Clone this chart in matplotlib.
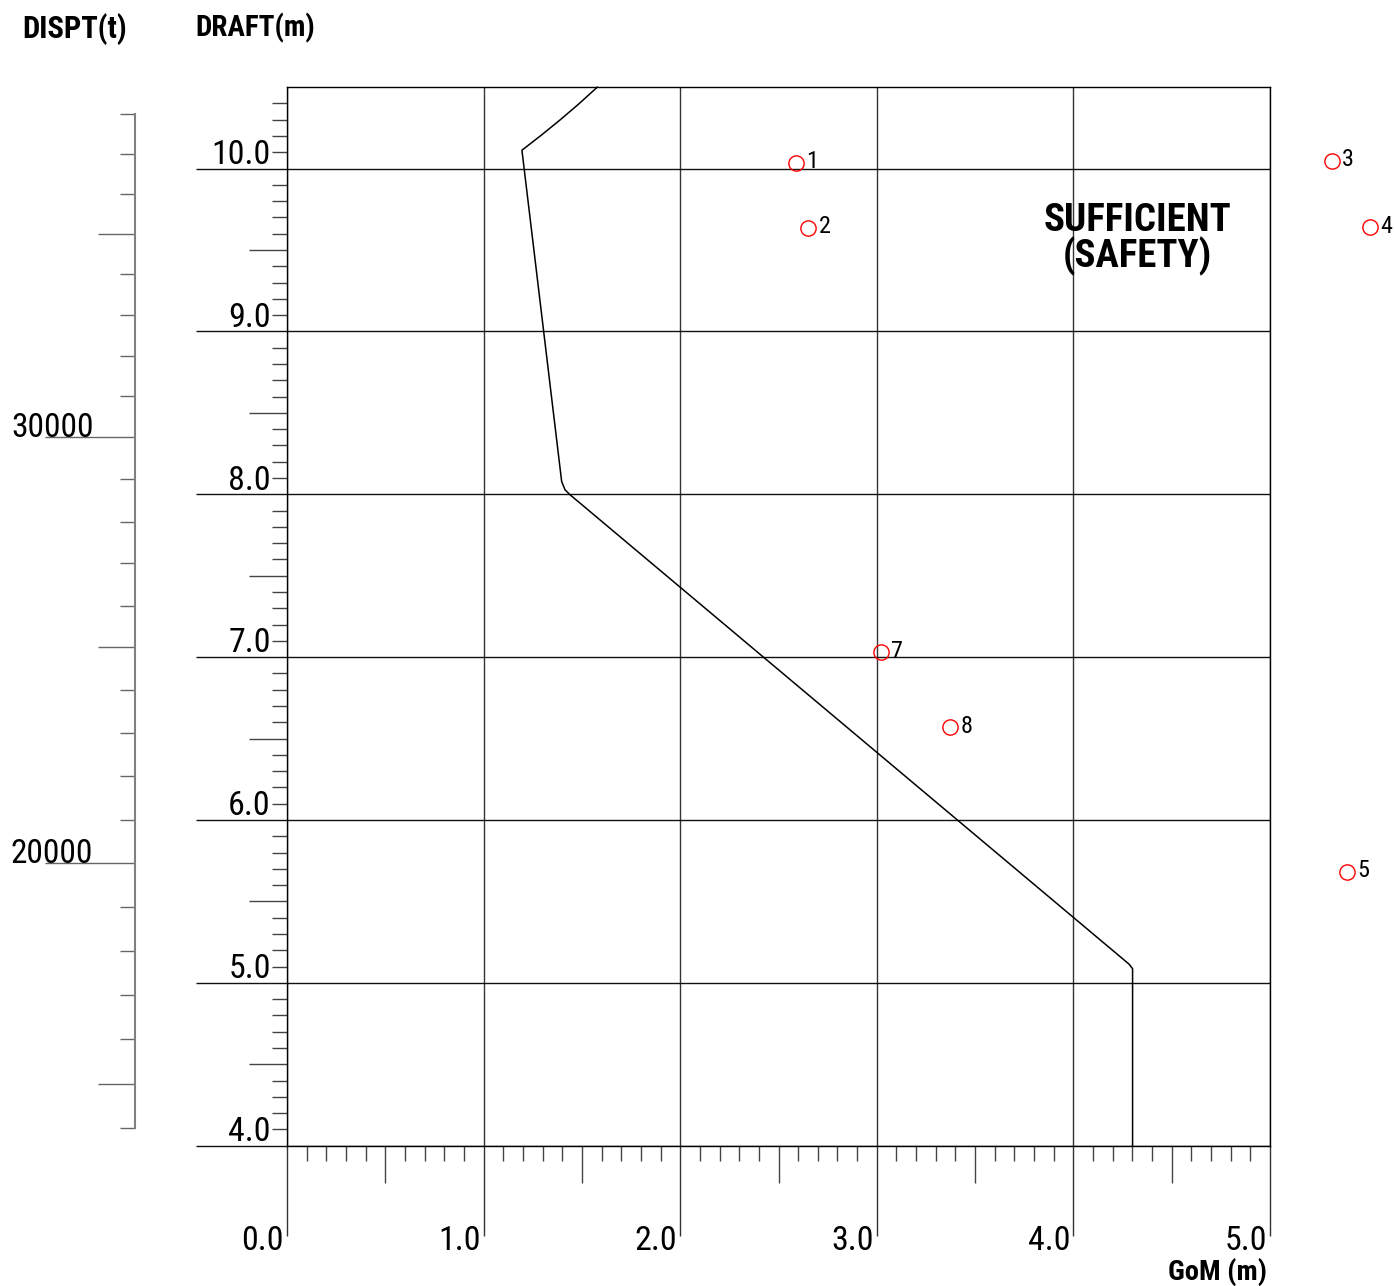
import numpy as np
import matplotlib
matplotlib.use("Agg")
import matplotlib.pyplot as plt
from matplotlib import font_manager
from matplotlib.font_manager import FontProperties
from matplotlib.transforms import ScaledTranslation, blended_transform_factory

# ---------------- data ----------------
curve_gom = [1.578, 1.483, 1.389, 1.291, 1.195, 1.397, 1.414, 1.440, 4.283, 4.301, 4.301]
curve_draft = [10.50, 10.396, 10.299, 10.203, 10.113, 8.079, 8.028, 7.997, 5.115, 5.087, 4.00]

point_ids = ["1", "2", "3", "4", "5", "7", "8"]
point_gom = [2.589, 2.652, 5.314, 5.509, 5.392, 3.021, 3.372]
point_draft = [10.037, 9.638, 10.049, 9.640, 5.683, 7.033, 6.573]

disp_values = list(range(38000, 13000, -1000))
disp_drafts = [10.336, 10.092, 9.845, 9.597, 9.352, 9.102, 8.852, 8.605,
               8.349, 8.093, 7.833, 7.578, 7.317, 7.060, 6.800, 6.534,
               6.268, 6.003, 5.736, 5.466, 5.196, 4.928, 4.653, 4.380, 4.107]
disp_labels = [30000, 20000]

draft_ticks = [4.0, 5.0, 6.0, 7.0, 8.0, 9.0, 10.0]
gom_ticks = [0.0, 1.0, 2.0, 3.0, 4.0, 5.0]

# ---------------- fonts: look for a narrow sans face ----------------
def _w(e):
    w = e.weight
    if isinstance(w, str):
        w = font_manager.weight_dict.get(w, 400)
    return int(w)

pref = ["Liberation Sans Narrow", "Noto Sans", "Noto Sans Condensed", "Open Sans",
        "Open Sans Condensed", "Roboto", "Roboto Condensed", "DejaVu Sans",
        "DejaVu Sans Condensed", "Lato", "Inter"]
groups = {}
for e in font_manager.fontManager.ttflist:
    if e.style != "normal":
        continue
    st = str(e.stretch)
    narrow = ("Narrow" in e.name) or ("Condensed" in e.name) or st in ("condensed", "semi-condensed")
    if not narrow or "Mono" in e.name or "Serif" in e.name:
        continue
    key = (e.name, st)
    groups.setdefault(key, []).append(e)

REG = BOLD = None
best = None
for (nm, st), ents in groups.items():
    regs = [e for e in ents if _w(e) == 400]
    bolds = [e for e in ents if _w(e) == 700]
    if not regs or not bolds:
        continue
    rank = (pref.index(nm) if nm in pref else 50, 0 if st == "condensed" else 1)
    if best is None or rank < best[0]:
        best = (rank, regs[0].fname, bolds[0].fname)
if best is not None:
    REG, BOLD = best[1], best[2]
    SCALE = 1.0
else:
    REG = font_manager.findfont(FontProperties(family="Liberation Sans"))
    BOLD = font_manager.findfont(FontProperties(family="Liberation Sans", weight="bold"))
    SCALE = 0.88

def FP(size, bold=False):
    return FontProperties(fname=BOLD if bold else REG, size=size * SCALE)

DPI = 100
W_PX, H_PX = 1394, 1286
fig = plt.figure(figsize=(W_PX / DPI, H_PX / DPI), dpi=DPI)

AX_L, AX_R, AX_T, AX_B = 287, 1270, 87.2, 1145.7
pos = [AX_L / W_PX, 1 - AX_B / H_PX, (AX_R - AX_L) / W_PX, (AX_B - AX_T) / H_PX]
ax = fig.add_axes(pos)
ax.set_xlim(0, 5)
ax.set_ylim(4, 10.5)

px = 0.72  # points per pixel

def shift(label, dx, dy):
    label.set_transform(label.get_transform() +
                        ScaledTranslation(dx / DPI, dy / DPI, fig.dpi_scale_trans))

# grid
ax.grid(True, which="major", axis="y", color="#111111", lw=1.0)
ax.grid(True, which="major", axis="x", color="#333333", lw=1.0)
ax.set_axisbelow(True)
for s in ax.spines.values():
    s.set_color("black")
    s.set_linewidth(1.0)

# x ticks
ax.set_xticks(gom_ticks)
ax.set_xticklabels([f"{v:.1f}" for v in gom_ticks])
x_minor = [round(v, 1) for v in np.arange(0.1, 5.0, 0.1) if abs(v - round(v)) > 1e-6]
ax.set_xticks(x_minor, minor=True)
ax.tick_params(axis="x", which="major", direction="out", length=90 * px, width=1.0,
               color="#333333", pad=-11 * px)
ax.tick_params(axis="x", which="minor", direction="out", length=15 * px, width=1.0,
               color="#444444")
for lab in ax.get_xticklabels():
    lab.set_fontproperties(FP(24.5))
    lab.set_ha("right")
    shift(lab, -3, 0)
for v, t in zip(x_minor, ax.xaxis.get_minor_ticks()):
    if abs(v * 2 - round(v * 2)) < 1e-6:
        t.tick1line.set_markersize(37 * px)
        t.tick1line.set_color("black")

# y ticks (draft)
ax.set_yticks(draft_ticks)
ax.set_yticklabels([f"{v:.1f}" for v in draft_ticks])
y_minor = [round(v, 1) for v in np.arange(4.1, 10.45, 0.1) if abs(v - round(v)) > 1e-6]
ax.set_yticks(y_minor, minor=True)
ax.tick_params(axis="y", which="major", direction="out", length=91 * px, width=1.0,
               color="#111111", pad=-74.7 * px)
ax.tick_params(axis="y", which="minor", direction="out", length=15 * px, width=1.0,
               color="#444444")
for lab in ax.get_yticklabels():
    lab.set_fontproperties(FP(24.5))
    lab.set_va("baseline")
    shift(lab, 0, 4.7)
for v, t in zip(y_minor, ax.yaxis.get_minor_ticks()):
    if abs(v * 2 - round(v * 2)) < 1e-6:
        t.tick1line.set_markersize(38 * px)
        t.tick1line.set_color("black")

# curve and points
ax.plot(curve_gom, curve_draft, color="black", lw=1.1, clip_on=False,
        solid_joinstyle="round")
ax.plot(point_gom, point_draft, ls="none", marker="o", ms=11, mfc="none",
        mec="red", mew=1.0, clip_on=False)
for pid, g, d in zip(point_ids, point_gom, point_draft):
    ax.annotate(pid, (g, d), xytext=(7.5, 0.5), textcoords="offset points",
                ha="left", va="center", fontproperties=FP(17.5),
                annotation_clip=False)

ax.text(4.326, 9.568, "SUFFICIENT\n(SAFETY)", ha="center", va="center",
        fontproperties=FP(28, True), linespacing=0.95, multialignment="center")

# displacement axis
axd = fig.add_axes(pos)
axd.set_ylim(4, 10.5)
axd.patch.set_alpha(0)
for k in ("top", "right", "bottom"):
    axd.spines[k].set_visible(False)
axd.spines["left"].set_position(("axes", (135 - AX_L) / (AX_R - AX_L)))
axd.spines["left"].set_bounds(min(disp_drafts), max(disp_drafts))
axd.spines["left"].set_color("#808080")
axd.spines["left"].set_linewidth(1.5)
axd.set_xticks([])
axd.set_yticks(disp_drafts)
axd.set_yticklabels([""] * len(disp_drafts))
axd.tick_params(axis="y", direction="out", length=15 * px, width=1.0, color="#666666")
for v, t in zip(disp_values, axd.yaxis.get_major_ticks()):
    if v % 10000 == 0:
        t.tick1line.set_markersize(90 * px)
        t.tick1line.set_color("#333333")
    elif v % 5000 == 0:
        t.tick1line.set_markersize(37 * px)
        t.tick1line.set_color("black")
trans_d = blended_transform_factory(axd.transAxes, axd.transData)
for v in disp_labels:
    d = disp_drafts[disp_values.index(v)]
    axd.text((11 - AX_L) / (AX_R - AX_L), d, str(v), transform=trans_d,
             ha="left", va="baseline", fontproperties=FP(24))

# headers
fig.text(22 / W_PX, 1 - 13 / H_PX, "DISPT(t)", ha="left", va="top",
         fontproperties=FP(22, True))
fig.text(195 / W_PX, 1 - 13 / H_PX, "DRAFT(m)", ha="left", va="top",
         fontproperties=FP(21, True))
fig.text(1267 / W_PX, 1 - 1280 / H_PX, "GoM (m)", ha="right", va="baseline",
         fontproperties=FP(20.5, True))

fig.savefig("out.png", dpi=DPI)
